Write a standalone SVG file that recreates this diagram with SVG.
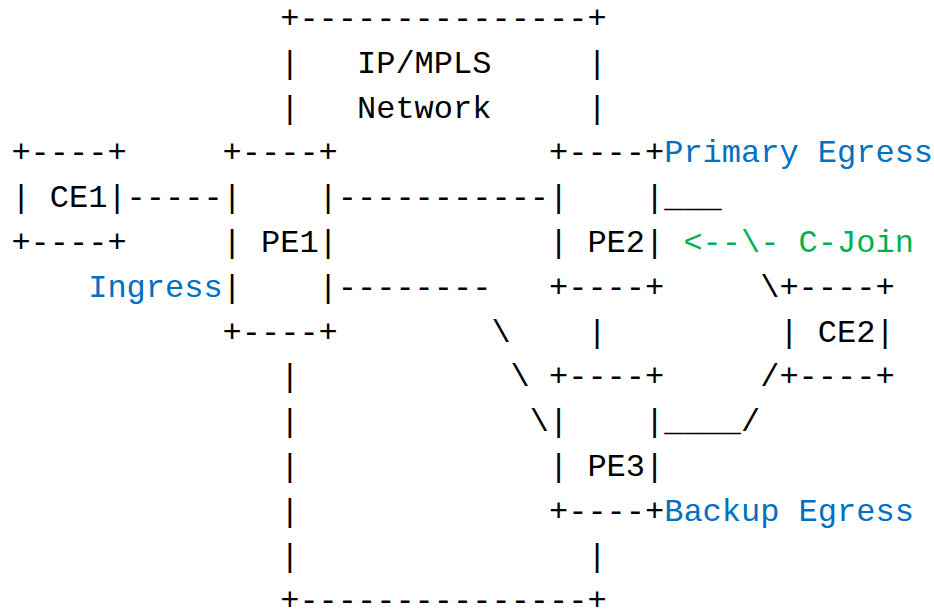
<svg xmlns="http://www.w3.org/2000/svg" width="934" height="609" viewBox="0 0 934 609" xml:space="preserve">
<style>
text{font-family:"Liberation Mono","DejaVu Sans Mono",monospace;font-size:32px;fill:#000;white-space:pre}
.blue{fill:#0070c0}
.green{fill:#00b050}
</style>
<rect width="934" height="609" fill="#fff"/>
<g transform="translate(1,0)">
<g id="network">
<text x="279.2" y="28">+---------------+</text>
<text x="279.2" y="72.8">|</text><text x="356" y="72.8">IP/MPLS</text><text x="586.4" y="72.8">|</text>
<text x="279.2" y="117.6">|</text><text x="356" y="117.6">Network</text><text x="586.4" y="117.6">|</text>
<text x="586.4" y="341.6">|</text>
<text x="279.2" y="386.4">|</text>
<text x="279.2" y="431.2">|</text>
<text x="279.2" y="476">|</text>
<text x="279.2" y="520.8">|</text>
<text x="279.2" y="565.6">|</text><text x="586.4" y="565.6">|</text>
<text x="279.2" y="609.5">+---------------+</text>
</g>
<g id="CE1">
<text x="10.4" y="162.4">+----+</text>
<text x="10.4" y="207.2">| CE1|</text>
<text x="10.4" y="252">+----+</text>
</g>
<g id="PE1">
<text x="221.6" y="162.4">+----+</text>
<text x="221.6" y="207.2">|    |</text>
<text x="221.6" y="252">| PE1|</text>
<text x="221.6" y="296.8">|    |</text>
<text x="221.6" y="341.6">+----+</text>
</g>
<g id="PE2">
<text x="548" y="162.4">+----+</text>
<text x="548" y="207.2">|    |</text>
<text x="548" y="252">| PE2|</text>
<text x="548" y="296.8">+----+</text>
</g>
<g id="PE3">
<text x="548" y="386.4">+----+</text>
<text x="548" y="431.2">|    |</text>
<text x="548" y="476">| PE3|</text>
<text x="548" y="520.8">+----+</text>
</g>
<g id="CE2">
<text x="778.4" y="296.8">+----+</text>
<text x="778.4" y="341.6">| CE2|</text>
<text x="778.4" y="386.4">+----+</text>
</g>
<g id="connectors">
<text x="125.6" y="207.2">-----</text>
<text x="336.8" y="207.2">-----------</text>
<text x="663.2" y="207.2">___</text>
<text x="336.8" y="296.8">--------</text>
<text x="490.4" y="341.6">\</text>
<text x="509.6" y="386.4">\</text>
<text x="528.8" y="431.2">\</text>
<text x="759.2" y="296.8">\</text>
<text x="759.2" y="386.4">/</text>
<text x="663.2" y="431.2">____</text>
<text x="740" y="431.2">/</text>
</g>
<g id="labels">
<text class="blue" x="663.2" y="162.4">Primary Egress</text>
<text class="blue" x="87.2" y="296.8">Ingress</text>
<text class="green" x="682.4" y="252">&lt;--\- C-Join</text>
<text class="blue" x="663.2" y="520.8">Backup Egress</text>
</g>
</g>
</svg>
